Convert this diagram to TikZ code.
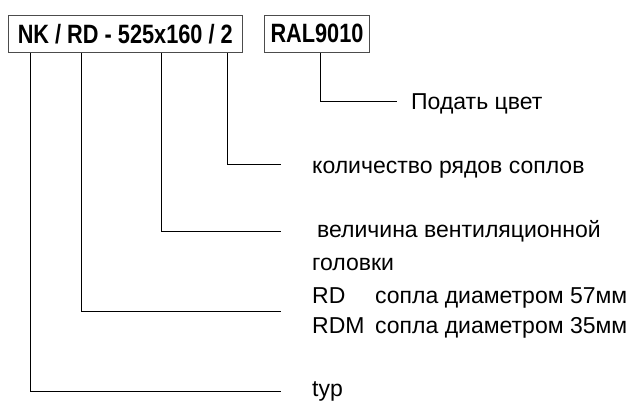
\documentclass[tikz,border=0pt]{standalone}
\usepackage{fontspec}
\setmainfont{Liberation Sans}
\newfontfamily\boxfont{Liberation Sans}[FakeStretch=0.82]
\begin{document}
\begin{tikzpicture}[x=1pt,y=-1pt,
  codebox/.style={draw=black!70,line width=1,inner sep=0,anchor=north west,
    font=\boxfont\bfseries\fontsize{26.5}{30}\selectfont},
  lbl/.style={anchor=base west,inner sep=0,font=\fontsize{23}{27}\selectfont},
  conn/.style={line width=1,black}]
\useasboundingbox[fill=white] (0,0) rectangle (634,400);
\node[codebox,minimum width=234.5,minimum height=37.5] (b1) at (7.5,14.5) {NK / RD - 525x160 / 2};
\node[codebox,minimum width=105,minimum height=37.5] (b2) at (264,14.5) {RAL9010};
% labels
\node[lbl] (tcol) at (411,109) {Подать цвет};
\node[lbl] (trows) at (312,173) {количество рядов соплов};
\node[lbl] (tsize) at (317,237) {величина вентиляционной};
\node[lbl] (tsize2) at (312,270) {головки};
\node[lbl] (trd) at (312,303) {RD};
\node[lbl] (trdt) at (375,303) {сопла диаметром 57мм};
\node[lbl] (trdm) at (312,333) {RDM};
\node[lbl] (trdmt) at (375,333) {сопла диаметром 35мм};
\node[lbl] (ttyp) at (312,396) {typ};
% connector bends / ends
\coordinate (s0) at (320,0);
\coordinate (e0) at (397,101.5);
\coordinate (s4) at (227,0);
\coordinate (e4) at (281,164);
\coordinate (s3) at (161,0);
\coordinate (e3) at (281,231);
\coordinate (s2) at (81,0);
\coordinate (e2) at (281,311);
\coordinate (s1) at (30,0);
\coordinate (e1) at (281,391);
\draw[conn] (s0 |- b2.south) |- (e0);
\draw[conn] (s4 |- b1.south) |- (e4);
\draw[conn] (s3 |- b1.south) |- (e3);
\draw[conn] (s2 |- b1.south) |- (e2);
\draw[conn] (s1 |- b1.south) |- (e1);
\end{tikzpicture}
\end{document}
